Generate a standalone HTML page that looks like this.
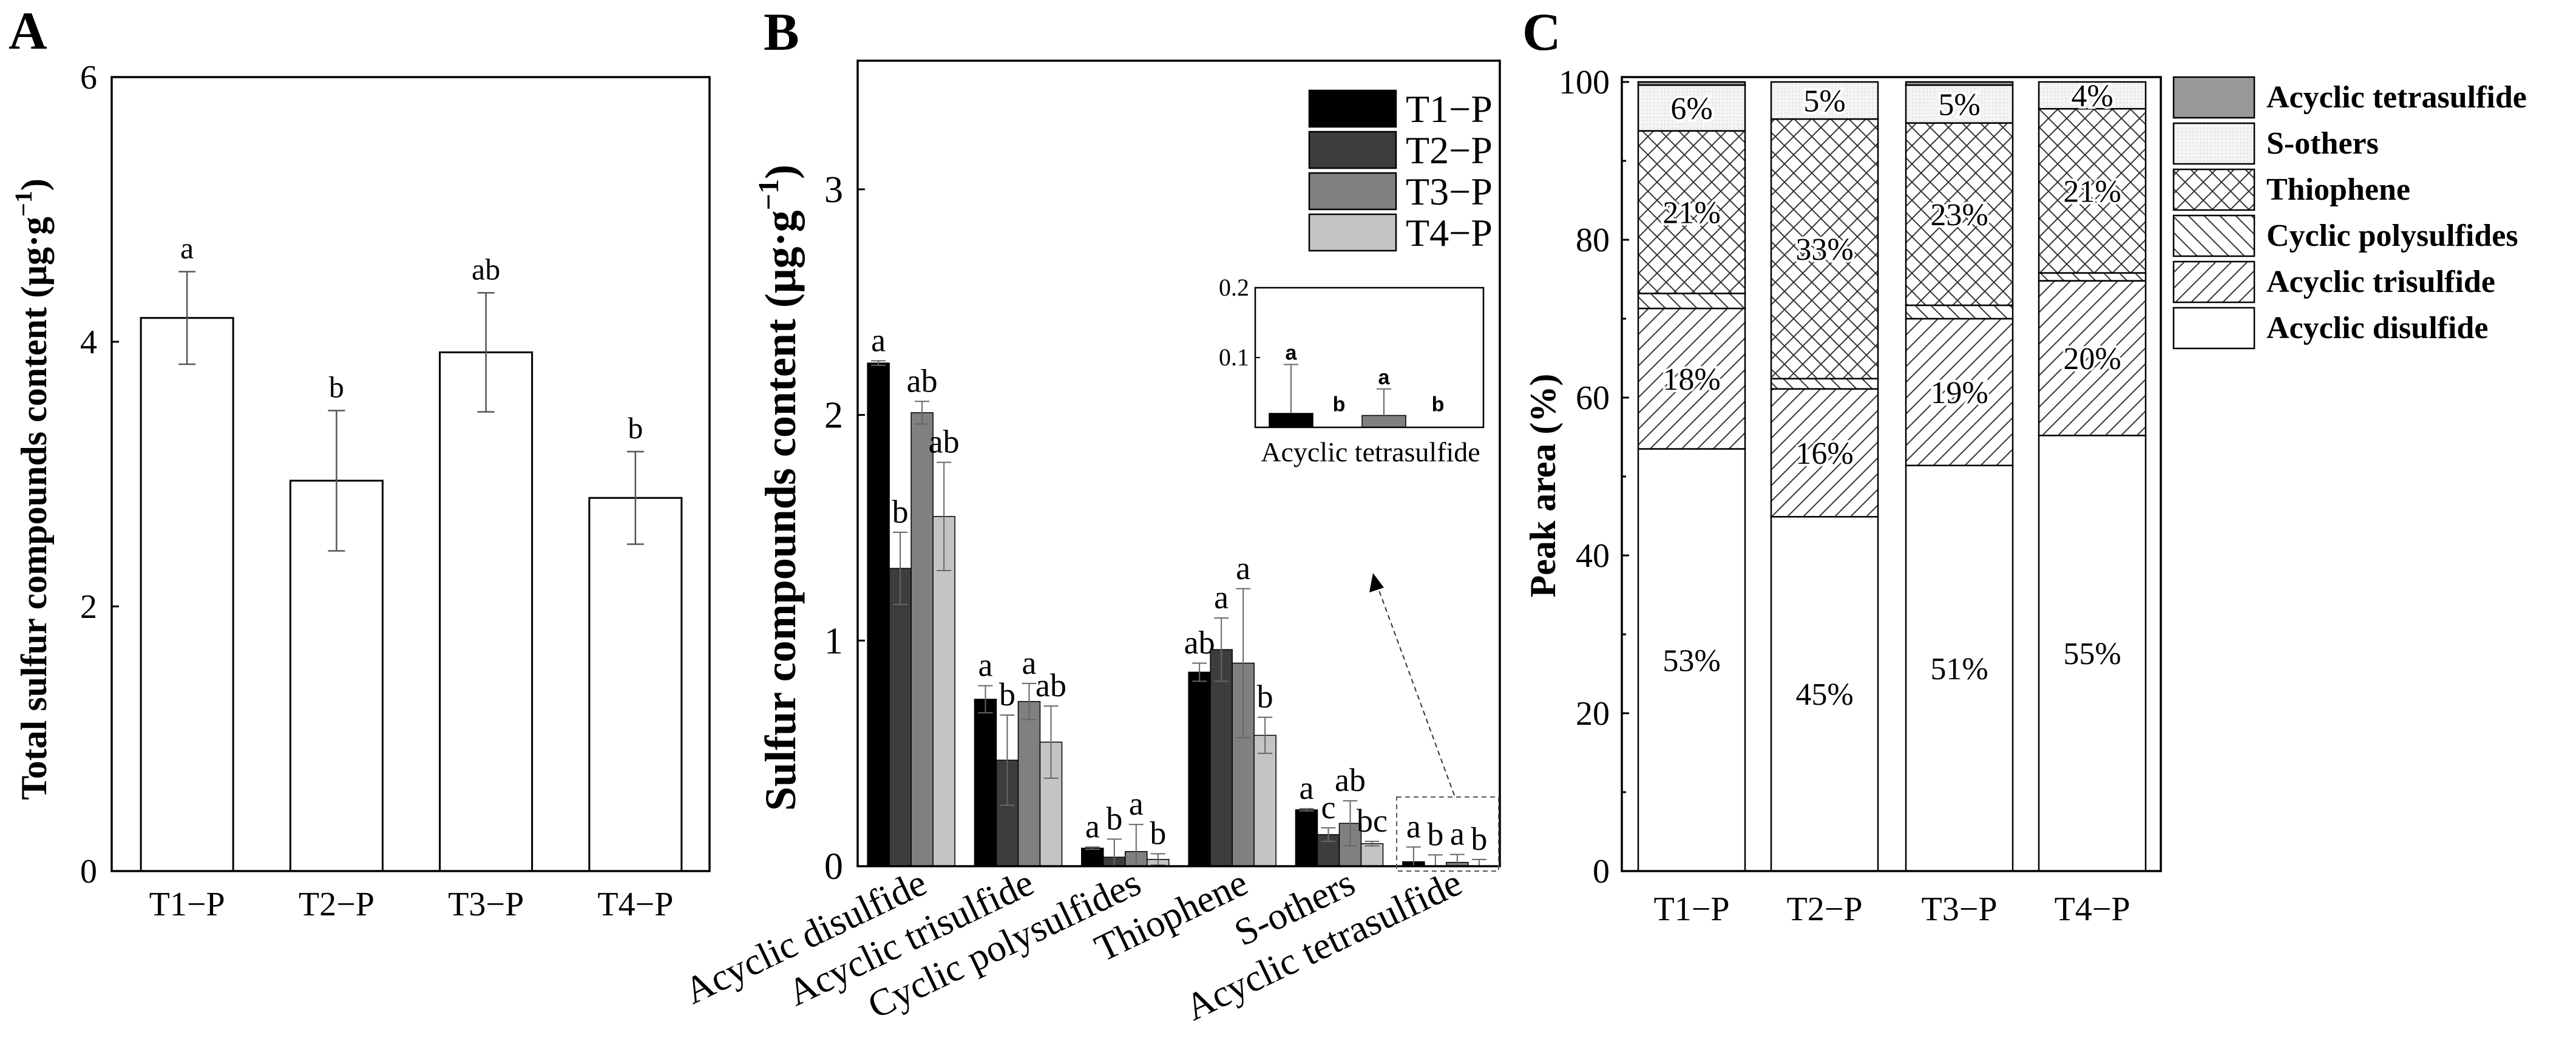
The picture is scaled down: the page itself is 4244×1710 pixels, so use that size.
<!DOCTYPE html>
<html><head><meta charset="utf-8"><style>
html,body{margin:0;padding:0;background:#fff}
svg{display:block;font-family:"Liberation Serif",serif}
</style></head><body>
<svg id="fig" width="4244" height="1710" viewBox="0 0 4244 1710">
<defs>
<pattern id="pFwd" patternUnits="userSpaceOnUse" width="26" height="26"><rect width="26" height="26" fill="#fff"/><path d="M-2,28 L28,-2 M-15,15 L15,-15 M11,41 L41,11" stroke="#333" stroke-width="2"/></pattern>
<pattern id="pBack" patternUnits="userSpaceOnUse" width="26" height="26"><rect width="26" height="26" fill="#fff"/><path d="M-2,-2 L28,28 M-15,11 L15,41 M11,-15 L41,15" stroke="#333" stroke-width="2"/></pattern>
<pattern id="pCross" patternUnits="userSpaceOnUse" width="30" height="30"><rect width="30" height="30" fill="#fff"/><path d="M0,0 L30,30 M30,0 L0,30" stroke="#333" stroke-width="2"/></pattern>
<pattern id="pDot" patternUnits="userSpaceOnUse" width="6" height="6"><rect width="6" height="6" fill="#f4f4f4"/><rect width="2" height="2" fill="#ddd"/></pattern>
</defs>
<g id="panelA"></g>
<g id="panelB"></g>
<g id="panelC"></g>
</svg>
<script>
// ---------- Panel A data ----------
const aCategories = ["T1−P","T2−P","T3−P","T4−P"];
const aValues = [4.18, 2.95, 3.92, 2.82];
const aErrors = [0.35, 0.53, 0.45, 0.35];
const aLetters = ["a","b","ab","b"];
const aTicks = [0, 2, 4, 6];
// ---------- Panel B data ----------
const bCategories = ["Acyclic disulfide","Acyclic trisulfide","Cyclic polysulfides","Thiophene","S-others","Acyclic tetrasulfide"];
const bSeries = ["T1−P","T2−P","T3−P","T4−P"];
const bT1 = [2.23, 0.74, 0.08, 0.86, 0.25, 0.02];
const bT2 = [1.32, 0.47, 0.04, 0.96, 0.14, 0.0];
const bT3 = [2.01, 0.73, 0.065, 0.90, 0.19, 0.017];
const bT4 = [1.55, 0.55, 0.03, 0.58, 0.10, 0.0];
const bE1 = [0.01, 0.06, 0.005, 0.04, 0.005, 0.065];
const bE2 = [0.16, 0.20, 0.08, 0.14, 0.03, 0.05];
const bE3 = [0.05, 0.08, 0.12, 0.33, 0.10, 0.035];
const bE4 = [0.24, 0.16, 0.025, 0.08, 0.01, 0.03];
const bL1 = ["a","a","a","ab","a","a"];
const bL2 = ["b","b","b","a","c","b"];
const bL3 = ["ab","a","a","a","ab","a"];
const bL4 = ["ab","ab","b","b","bc","b"];
const bTicks = [0,1,2,3];
const insetValues = [0.02, 0.0, 0.017, 0.0];
const insetErrors = [0.07, 0.0, 0.038, 0.0];
const insetLetters = ["a","b","a","b"];
const insetTicks = [0.1, 0.2];
// ---------- Panel C data ----------
const cCategories = ["T1−P","T2−P","T3−P","T4−P"];
const cSegments = ["Acyclic disulfide","Acyclic trisulfide","Cyclic polysulfides","Thiophene","S-others","Acyclic tetrasulfide"];
const cDisulfide = [53.5, 44.9, 51.4, 55.2];
const cTrisulfide = [17.8, 16.2, 18.6, 19.6];
const cCyclic = [1.9, 1.3, 1.7, 1.0];
const cThiophene = [20.6, 32.9, 23.1, 20.8];
const cSothers = [5.8, 4.7, 4.8, 3.4];
const cTetra = [0.4, 0.0, 0.4, 0.0];
const cLabels = [["53%","18%",null,"21%","6%",null],["45%","16%",null,"33%","5%",null],["51%","19%",null,"23%","5%",null],["55%","20%",null,"21%","4%",null]];
const cTicks = [0,20,40,60,80,100];

const NS="http://www.w3.org/2000/svg";
function mk(parent,tag,attrs,text){const e=document.createElementNS(NS,tag);for(const k in attrs)e.setAttribute(k,attrs[k]);if(text!==undefined)e.textContent=text;parent.appendChild(e);return e;}

// ===== Panel A =====
(function(){
const g=document.getElementById('panelA');
const L=184,R=1169,T=127,B=1435,ymax=6;
const y=v=>B-(v/ymax)*(B-T);
const bw=152, step=(R-L)/4;
const xc=i=>L+step*(i+0.5)+1;
let t=mk(g,'text',{x:14,y:80,'font-size':88,'font-weight':'bold'},'A');

aCategories.forEach((c,i)=>{
 const v=aValues[i],e=aErrors[i],x=xc(i);
 let r=mk(g,'rect',{x:x-bw/2,y:y(v),width:bw,height:B-y(v),fill:'#fff',stroke:'#000','stroke-width':3});
 
 let eb=mk(g,'path',{d:`M${x},${y(v+e)}V${y(v-e)}M${x-14},${y(v+e)}H${x+14}M${x-14},${y(v-e)}H${x+14}`,stroke:'#555','stroke-width':2.5,fill:'none'});
 
 let lt=mk(g,'text',{x:x,y:y(v+e)-22,'text-anchor':'middle','font-size':50},aLetters[i]);
 
 let xl=mk(g,'text',{x:x,y:1508,'text-anchor':'middle','font-size':56},c);
 
});
let f=mk(g,'rect',{x:L,y:T,width:R-L,height:B-T,fill:'none',stroke:'#000','stroke-width':3.5});

aTicks.forEach(v=>{
 mk(g,'line',{x1:L,x2:L+12,y1:y(v),y2:y(v),stroke:'#000','stroke-width':3});
 let tl=mk(g,'text',{x:L-24,y:y(v)+19,'text-anchor':'end','font-size':56},String(v));
 
});
let yt=mk(g,'text',{x:0,y:0,transform:`translate(76,${(T+B)/2+25}) rotate(-90)`,'text-anchor':'middle','font-size':60,'font-weight':'bold'});

yt.innerHTML='Total sulfur compounds content (μg·g<tspan dy="-24" font-size="40">−1</tspan><tspan dy="24">)</tspan>';
})();

// ===== Panel B =====
(function(){
const g=document.getElementById('panelB');
const L=1413,R=2471,T=100,B=1427,ymax=3.57;
const y=v=>B-(v/ymax)*(B-T);
const step=(R-L)/6,bw=36;
const fills=['#000','#3d3d3d','#808080','#c4c4c4'];
const vals=[bT1,bT2,bT3,bT4],errs=[bE1,bE2,bE3,bE4],lets=[bL1,bL2,bL3,bL4];
let t=mk(g,'text',{x:1258,y:82,'font-size':88,'font-weight':'bold'},'B');

bCategories.forEach((c,ci)=>{
 const cx=L+step*(ci+0.5);
 for(let s=0;s<4;s++){
  const v=vals[s][ci],e=errs[s][ci];
  const x0=cx-2*bw+s*bw, xm=x0+bw/2;
  if(v>0){let r=mk(g,'rect',{x:x0,y:y(v),width:bw,height:B-y(v),fill:fills[s],stroke:'#000','stroke-width':1.5});
  }
  const top=y(v+e),bot=y(Math.max(0,v-e));
  let eb=mk(g,'path',{d:`M${xm},${top}V${bot}M${xm-12},${top}H${xm+12}M${xm-12},${bot}H${xm+12}`,stroke:'#666','stroke-width':2,fill:'none'});
  
  let lt=mk(g,'text',{x:xm,y:top-16,'text-anchor':'middle','font-size':54},lets[s][ci]);
  
 }
 let xl=mk(g,'text',{x:0,y:0,transform:`translate(${cx+30},${B+42}) rotate(-25.5)`,'text-anchor':'end','font-size':63},c);
 
});
let f=mk(g,'rect',{x:L,y:T,width:R-L,height:B-T,fill:'none',stroke:'#000','stroke-width':3.5});

bTicks.forEach(v=>{
 mk(g,'line',{x1:L,x2:L+12,y1:y(v),y2:y(v),stroke:'#000','stroke-width':3});
 let tl=mk(g,'text',{x:L-24,y:y(v)+21,'text-anchor':'end','font-size':62},String(v));
 
});
let yt=mk(g,'text',{x:0,y:0,transform:`translate(1310,${(T+B)/2+40}) rotate(-90)`,'text-anchor':'middle','font-size':72,'font-weight':'bold'});

yt.innerHTML='Sulfur compounds content (μg·g<tspan dy="-28" font-size="48">−1</tspan><tspan dy="28">)</tspan>';
// legend
bSeries.forEach((s,i)=>{
 const ly=149+i*68;
 let r=mk(g,'rect',{x:2157,y:ly,width:143,height:60,fill:fills[i],stroke:'#000','stroke-width':2.5});
 
 let lt=mk(g,'text',{x:2316,y:ly+52,'font-size':64},s);
 
});
// dashed highlight + arrow
let db=mk(g,'rect',{x:2301,y:1313,width:168,height:122,fill:'none',stroke:'#555','stroke-width':2,'stroke-dasharray':'8,6'});

let ar=mk(g,'line',{x1:2396,y1:1310,x2:2268,y2:962,stroke:'#333','stroke-width':2,'stroke-dasharray':'8,6'});

mk(g,'path',{d:'M2262,944 L2256,976 L2280,968 Z',fill:'#000'});
// inset
const iL=2068,iR=2444,iT=474,iB=704,imax=0.2;
const iy=v=>iB-(v/imax)*(iB-iT);
const ixs=[2127,2206,2280,2369];
insetValues.forEach((v,i)=>{
 if(v>0){let r=mk(g,'rect',{x:ixs[i]-36,y:iy(v),width:72,height:iB-iy(v),fill:fills[i],stroke:'#000','stroke-width':1.5});
 }
 const top=iy(v+insetErrors[i]);
 if(insetErrors[i]>0){let eb=mk(g,'path',{d:`M${ixs[i]},${top}V${iy(v)}M${ixs[i]-12},${top}H${ixs[i]+12}`,stroke:'#666','stroke-width':2,fill:'none'});
 }
 const ly=insetErrors[i]>0?top-8:iy(0.03)+8;
 let lt=mk(g,'text',{x:ixs[i],y:ly,'text-anchor':'middle','font-size':34,'font-weight':'bold','font-family':'Liberation Sans, sans-serif'},insetLetters[i]);
 
});
let inf=mk(g,'rect',{x:iL,y:iT,width:iR-iL,height:iB-iT,fill:'none',stroke:'#000','stroke-width':2.5});

insetTicks.forEach(v=>{
 mk(g,'line',{x1:iL,x2:iL+8,y1:iy(v),y2:iy(v),stroke:'#000','stroke-width':2});
 let tl=mk(g,'text',{x:iL-10,y:iy(v)+13,'text-anchor':'end','font-size':40},String(v));
 
});
let il=mk(g,'text',{x:2258,y:760,'text-anchor':'middle','font-size':46},'Acyclic tetrasulfide');

})();

// ===== Panel C =====
(function(){
const g=document.getElementById('panelC');
const L=2672,R=3560,T=127,B=1435,ymax=100;
const y=v=>B-(v/ymax)*(B-135);
const xs=[2699,2918,3140,3359],bw=176;
const segs=[cDisulfide,cTrisulfide,cCyclic,cThiophene,cSothers,cTetra];
const fills=['#fff','url(#pFwd)','url(#pBack)','url(#pCross)','url(#pDot)','#999'];
let t=mk(g,'text',{x:2508,y:82,'font-size':88,'font-weight':'bold'},'C');

cCategories.forEach((c,i)=>{
 let acc=0;
 segs.forEach((arr,si)=>{
  const v=arr[i];
  if(v>0){let r=mk(g,'rect',{x:xs[i],y:y(acc+v),width:bw,height:y(acc)-y(acc+v),fill:fills[si],stroke:'#000','stroke-width':2.5});
  
  const lab=cLabels[i][si];
  if(lab){let ty=y(acc+v/2)+18;
   let tl=mk(g,'text',{x:xs[i]+bw/2,y:ty,'text-anchor':'middle','font-size':52,stroke:'#fff','stroke-width':8,'paint-order':'stroke'},lab);
   }
  }
  acc+=v;
 });
 let xl=mk(g,'text',{x:xs[i]+bw/2,y:1516,'text-anchor':'middle','font-size':56},c);
 
});
let f=mk(g,'rect',{x:L,y:T,width:R-L,height:B-T,fill:'none',stroke:'#000','stroke-width':3.5});

cTicks.forEach(v=>{
 mk(g,'line',{x1:L,x2:L+12,y1:y(v),y2:y(v),stroke:'#000','stroke-width':3});
 if(v<100)mk(g,'line',{x1:L,x2:L+7,y1:y(v+10),y2:y(v+10),stroke:'#000','stroke-width':3});
 let tl=mk(g,'text',{x:L-20,y:y(v)+19,'text-anchor':'end','font-size':56},String(v));
 
});
let yt=mk(g,'text',{x:0,y:0,transform:`translate(2562,800) rotate(-90)`,'text-anchor':'middle','font-size':60,'font-weight':'bold'},'Peak area (%)');

const legOrder=[5,4,3,2,1,0];
legOrder.forEach((si,k)=>{
 const ly=127+k*76;
 let r=mk(g,'rect',{x:3581,y:ly,width:133,height:67,fill:fills[si],stroke:'#000','stroke-width':2.5});
 
 let lt=mk(g,'text',{x:3734,y:ly+50,'font-size':52,'font-weight':'bold'},cSegments[si]);
 
});
})();
</script>
</body></html>
